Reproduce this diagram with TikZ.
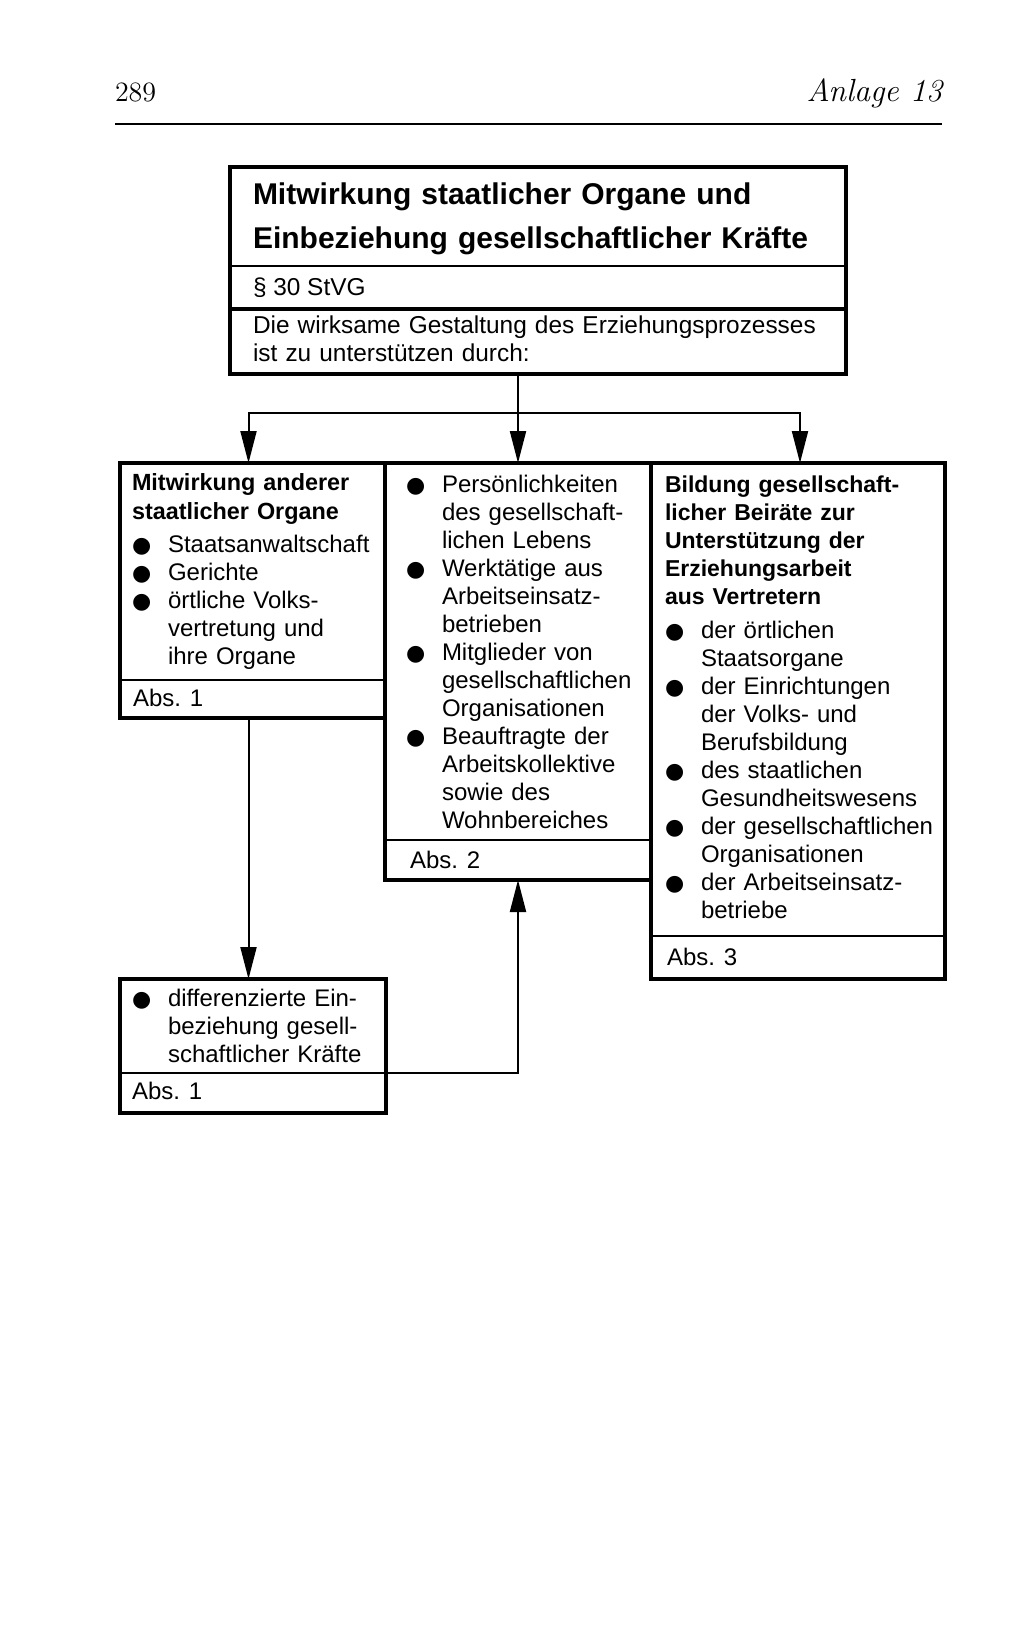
\documentclass[tikz,border=0pt]{standalone}
\usepackage{fontspec}
\newfontfamily\schrift{Liberation Sans}
\newfontfamily\zeichen{DejaVu Sans}
\usetikzlibrary{arrows.meta,fit}
\tikzset{%
  >={Triangle[length=16pt,width=8pt]}, % lange schwarze Spitzen
  inner sep=0pt,%
  outer sep=0pt,%
  rahmen/.style={draw,line width=2.2pt},%
  trenn/.style={line width=1.2pt},%
  verbinder/.style={->,line width=1pt},%
  kopftext/.style={font=\schrift\bfseries\fontsize{15}{22}\selectfont,
    anchor=north west,text width=300pt,align=left},%
  grundtext/.style={font=\schrift\fontsize{12}{14}\selectfont,
    anchor=north west,text width=150pt,align=left},%
  abstext/.style={font=\schrift\fontsize{12}{14}\selectfont,anchor=base west}%
}
\newcommand{\punkt}[1]{\noindent\hangindent=18pt\hangafter=1%
  \makebox[18pt][l]{\smash{\zeichen\fontsize{11}{11}\selectfont ●}}#1\par}

\begin{document}
\begin{tikzpicture}[x=0.5pt,y=-0.5pt] % ANLAGE 13
\useasboundingbox (0,0) rectangle (1024,1638);

% Kopfzeile
\node[anchor=base west] (seite) at (115,101) {\fontsize{14}{14}\selectfont 289};
\node[anchor=base east] (anlage) at (942,101) {\fontsize{16}{16}\selectfont\itshape Anlage 13};
\draw[line width=0.8pt] (seite.west |- 0,124) -- (anlage.east |- 0,124);

% Rahmen
\node[rahmen,fit={(230,167) (846,374)}] (titel) {};
\node[rahmen,fit={(120,463) (385,718)}] (links) {};
\node[rahmen,fit={(385,463) (651,880)}] (mitte) {};
\node[rahmen,fit={(651,463) (945,979)}] (rechts) {};
\node[rahmen,fit={(120,979) (386,1113)}] (unten) {};

\draw[trenn] (titel.west |- 0,266) -- (titel.east |- 0,266);
\draw[trenn,line width=2pt] (titel.west |- 0,309) -- (titel.east |- 0,309);
\foreach \kasten/\y in {links/680,mitte/840,rechts/936,unten/1073}
  \draw[trenn] (\kasten.west |- 0,\y) -- (\kasten.east |- 0,\y);

% Texte
\node[kopftext] (titel-text) at (253,183)
  {Mitwirkung staatlicher Organe und\\Einbeziehung gesellschaftlicher Kräfte};
\node[abstext,font=\schrift\fontsize{12.2}{14}\selectfont] (titel-par) at (253,295) {§ 30 StVG};
\node[grundtext,text width=300pt,font=\schrift\fontsize{12.2}{14}\selectfont]
  (titel-auftrag) at (253,316)
  {Die wirksame Gestaltung des Erziehungsprozesses\\ist zu unterstützen durch:};

\node[grundtext] (links-text) at (132,474)
  {{\bfseries\fontsize{11.7}{14.5}\selectfont Mitwirkung anderer\\staatlicher Organe\par}%
   \vspace{2.5pt}%
   \punkt{Staatsanwaltschaft}%
   \punkt{Gerichte}%
   \punkt{örtliche Volks-\newline vertretung und\newline ihre Organe}};

\node[grundtext] (mitte-text) at (406,475)
  {\punkt{Persönlichkeiten\newline des gesellschaft-\newline lichen Lebens}%
   \punkt{Werktätige aus\newline Arbeitseinsatz-\newline betrieben}%
   \punkt{Mitglieder von\newline gesellschaftlichen\newline Organisationen}%
   \punkt{Beauftragte der\newline Arbeitskollektive\newline sowie des\newline Wohnbereiches}};

\node[grundtext] (rechts-text) at (665,476)
  {{\bfseries\fontsize{11.5}{14}\selectfont Bildung gesellschaft-\\licher Beiräte zur\\%
    Unterstützung der\\Erziehungsarbeit\\aus Vertretern\par}%
   \vspace{2.7pt}%
   \punkt{der örtlichen\newline Staatsorgane}%
   \punkt{der Einrichtungen\newline der Volks- und\newline Berufsbildung}%
   \punkt{des staatlichen\newline Gesundheitswesens}%
   \punkt{der gesellschaftlichen\newline Organisationen}%
   \punkt{der Arbeitseinsatz-\newline betriebe}};

\node[grundtext] (unten-text) at (132,989)
  {\punkt{differenzierte Ein-\newline beziehung gesell-\newline schaftlicher Kräfte}};

\node[abstext] (links-abs) at (133,706) {Abs. 1};
\node[abstext] (mitte-abs) at (410,868) {Abs. 2};
\node[abstext] (rechts-abs) at (667,965) {Abs. 3};
\node[abstext] (unten-abs) at (132,1099) {Abs. 1};

% Verbindungen
\coordinate (gabel) at (mitte.north |- 0,413);
\draw[verbinder] (titel.south -| mitte.north) -- (mitte.north);
\draw[verbinder] (gabel) -| ([xshift=-2pt]links.north);
\draw[verbinder] (gabel) -| ([xshift=1pt]rechts.north);
\draw[verbinder] ([xshift=-2pt]links.south) -- ([xshift=-2pt]links.south |- unten.north);
\coordinate (unten-ecke) at (unten.east |- 0,1073);
\draw[verbinder] (unten-ecke) -| (mitte.south);

\end{tikzpicture}
\end{document}
